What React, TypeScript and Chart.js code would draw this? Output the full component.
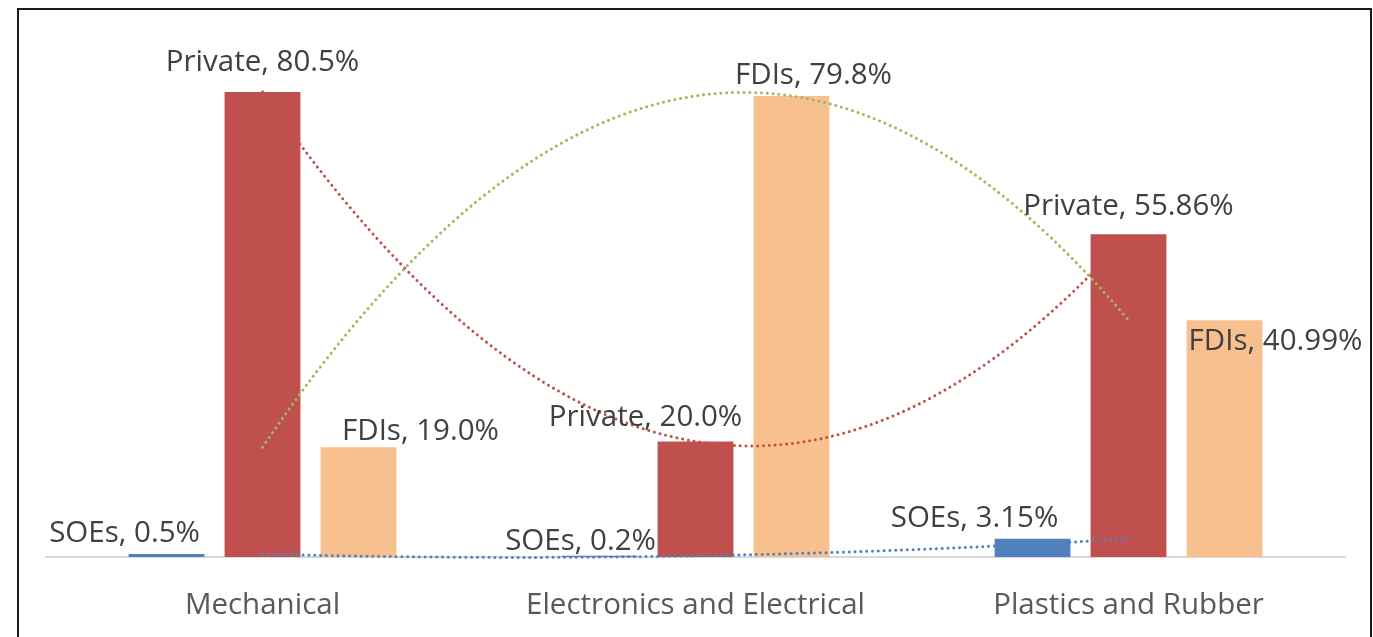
import React, { useEffect, useRef } from "react";
import { Chart, registerables } from "chart.js";

Chart.register(...registerables);

const categories = ["Mechanical", "Electronics and Electrical", "Plastics and Rubber"];
const seriesNames = ["SOEs", "Private", "FDIs"];
const soeValues = [0.5, 0.2, 3.15];
const privateValues = [80.5, 20.0, 55.86];
const fdiValues = [19.0, 79.8, 40.99];
const soeValueText = ["0.5%", "0.2%", "3.15%"];
const privateValueText = ["80.5%", "20.0%", "55.86%"];
const fdiValueText = ["19.0%", "79.8%", "40.99%"];

// style: colours and manual label offsets (px, relative to bar top centre)
const barColors = ["#4f81bd", "#c0504d", "#f9c08f"];
const trendColors = ["#4f81bd", "#c0504d", "#9bbb59"];
const labelOffsets = [
  [[-42, -21], [-19, -14], [-58, -20]],
  [[0, -29], [-50, -24], [0, -28]],
  [[62, -16], [22, -20], [51, 21]],
];

const FONT = "'Open Sans', 'Noto Sans', sans-serif";
const FONT_SIZE = 29.5;

const overlayPlugin = {
  id: "overlay",
  afterDatasetsDraw(chart: any) {
    const ctx = chart.ctx;
    const xs = chart.scales.x;
    const ys = chart.scales.y;
    const allValues = [soeValues, privateValues, fdiValues];
    const allText = [soeValueText, privateValueText, fdiValueText];
    // polynomial (order 2) trendlines through the three category values
    allValues.forEach((v, d) => {
      const c = v[0];
      const b = (-3 * v[0] + 4 * v[1] - v[2]) / 2;
      const x0 = xs.getPixelForValue(0);
      const x1 = xs.getPixelForValue(1);
      const x2 = xs.getPixelForValue(2);
      ctx.save();
      ctx.beginPath();
      ctx.moveTo(x0, ys.getPixelForValue(v[0]));
      ctx.quadraticCurveTo(x1, ys.getPixelForValue(c + b), x2, ys.getPixelForValue(v[2]));
      ctx.strokeStyle = trendColors[d];
      ctx.lineWidth = 3;
      ctx.lineCap = "round";
      ctx.setLineDash([0.01, 5.8]);
      ctx.stroke();
      ctx.restore();
    });
    // data labels
    ctx.save();
    ctx.font = `${FONT_SIZE}px ${FONT}`;
    ctx.fillStyle = "#404040";
    ctx.textAlign = "center";
    ctx.textBaseline = "middle";
    allValues.forEach((v, d) => {
      const meta = chart.getDatasetMeta(d);
      meta.data.forEach((el: any, i: number) => {
        const [dx, dy] = labelOffsets[d][i];
        ctx.fillText(`${seriesNames[d]}, ${allText[d][i]}`, el.x + dx, el.y + dy);
      });
    });
    ctx.restore();
  },
};

export default function App() {
  const ref = useRef<HTMLCanvasElement | null>(null);
  useEffect(() => {
    if (!ref.current) return;
    const chart = new Chart(ref.current, {
      type: "bar",
      data: {
        labels: categories,
        datasets: [
          { label: seriesNames[0], data: soeValues, backgroundColor: barColors[0] },
          { label: seriesNames[1], data: privateValues, backgroundColor: barColors[1] },
          { label: seriesNames[2], data: fdiValues, backgroundColor: barColors[2] },
        ],
      },
      options: {
        animation: false,
        responsive: true,
        maintainAspectRatio: false,
        devicePixelRatio: 1,
        datasets: { bar: { categoryPercentage: 0.665, barPercentage: 0.79 } },
        layout: { padding: { left: 46, right: 28, top: 37, bottom: 0 } },
        plugins: { legend: { display: false }, tooltip: { enabled: false } },
        scales: {
          x: {
            grid: { display: false, drawTicks: false },
            border: { display: true, color: "#d9d9d9", width: 2 },
            ticks: { color: "#595959", font: { family: FONT, size: FONT_SIZE }, padding: 31, maxRotation: 0 },
            afterFit: (scale: any) => {
              scale.height = 80;
            },
          },
          y: { display: false, min: 0, max: 90 },
        },
      },
      plugins: [overlayPlugin],
    });
    return () => chart.destroy();
  }, []);
  return (
    <div style={{ position: "fixed", left: 0, top: 0, width: 1373, height: 637, overflow: "hidden", background: "#fff" }}>
      <div
        style={{
          position: "absolute",
          left: 17,
          top: 8,
          width: 1355,
          height: 700,
          border: "2px solid #1a1a1a",
          boxSizing: "border-box",
        }}
      />
      <div style={{ position: "absolute", left: 0, top: 0, width: 1373, height: 637 }}>
        <canvas ref={ref} />
      </div>
    </div>
  );
}
